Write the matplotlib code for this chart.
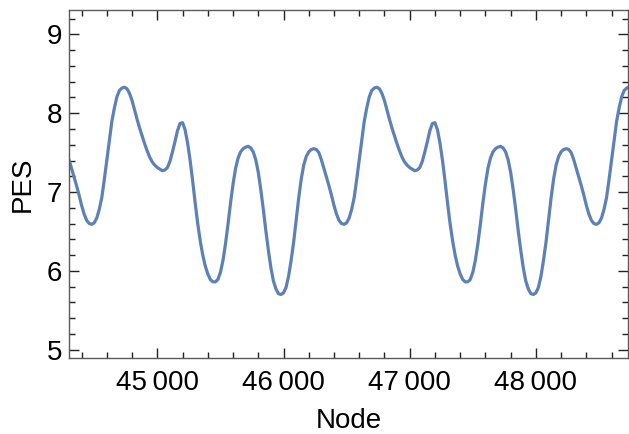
import matplotlib.pyplot as plt
from matplotlib.ticker import MultipleLocator, FuncFormatter

## PES along the node index, sampled every 20 nodes (one pass = 2000 nodes)
node_start = 44300
node_step = 20
pes_period = [7.41, 7.30, 7.19, 7.08, 6.96, 6.83, 6.72, 6.64, 6.60, 6.59,
              6.61, 6.67, 6.78, 6.93, 7.16, 7.41, 7.67, 7.90, 8.07, 8.21,
              8.29, 8.32, 8.33, 8.31, 8.25, 8.16, 8.04, 7.92, 7.81, 7.71,
              7.61, 7.52, 7.44, 7.38, 7.34, 7.31, 7.29, 7.27, 7.28, 7.31,
              7.39, 7.51, 7.64, 7.78, 7.87, 7.88, 7.79, 7.62, 7.40, 7.14,
              6.86, 6.60, 6.38, 6.20, 6.06, 5.96, 5.89, 5.86, 5.86, 5.89,
              5.98, 6.13, 6.34, 6.59, 6.86, 7.10, 7.30, 7.43, 7.51, 7.55,
              7.57, 7.58, 7.56, 7.51, 7.41, 7.25, 7.03, 6.78, 6.51, 6.26,
              6.04, 5.87, 5.77, 5.71, 5.70, 5.72, 5.79, 5.93, 6.13, 6.36,
              6.64, 6.92, 7.16, 7.34, 7.45, 7.51, 7.54, 7.55, 7.54, 7.50]
pes_tail = [7.41, 7.30, 7.19, 7.08, 6.96, 6.83, 6.72, 6.64, 6.60, 6.59,
            6.61, 6.67, 6.78, 6.93, 7.16, 7.41, 7.67, 7.90, 8.07, 8.21,
            8.29, 8.32, 8.33]
pes = pes_period + pes_period + pes_tail
nodes = [node_start + i * node_step for i in range(len(pes))]

x_range = (44300, 48730)
y_range = (4.9, 9.31)
x_label = 'Node'
y_label = 'PES'

line_color = '#5E81B5'
frame_color = '#5a5a5a'

plt.rcParams['font.family'] = ['Liberation Sans', 'DejaVu Sans']

fig = plt.figure(figsize=(6.29, 4.34), dpi=100)
ax = fig.add_axes([69 / 629, 76.5 / 434, 559 / 629, 347.5 / 434])

ax.plot(nodes, pes, color=line_color, lw=2.3, solid_capstyle='round',
        solid_joinstyle='round')

ax.set_xlim(*x_range)
ax.set_ylim(*y_range)

## frame ticks on every side, pointing inwards
ax.xaxis.set_major_locator(MultipleLocator(1000))
ax.xaxis.set_minor_locator(MultipleLocator(200))
ax.yaxis.set_major_locator(MultipleLocator(1))
ax.yaxis.set_minor_locator(MultipleLocator(0.2))
ax.xaxis.set_major_formatter(FuncFormatter(
    lambda v, pos: '%d\u2009%03d' % (int(v) // 1000, int(v) % 1000)))
ax.yaxis.set_major_formatter(FuncFormatter(lambda v, pos: '%d' % v))

ax.tick_params(which='both', direction='in', top=True, right=True,
               color='#222222', width=1.0)
ax.tick_params(which='major', length=7)
ax.tick_params(which='minor', length=4)
ax.tick_params(axis='x', which='major', labelsize=20, pad=9)
ax.tick_params(axis='y', which='major', labelsize=20, pad=5)

for s in ax.spines.values():
    s.set_color(frame_color)
    s.set_linewidth(1.0)

ax.set_xlabel(x_label, fontsize=20, labelpad=9)
ax.set_ylabel(y_label, fontsize=20, labelpad=8)

fig.savefig('out.png', dpi=100)
